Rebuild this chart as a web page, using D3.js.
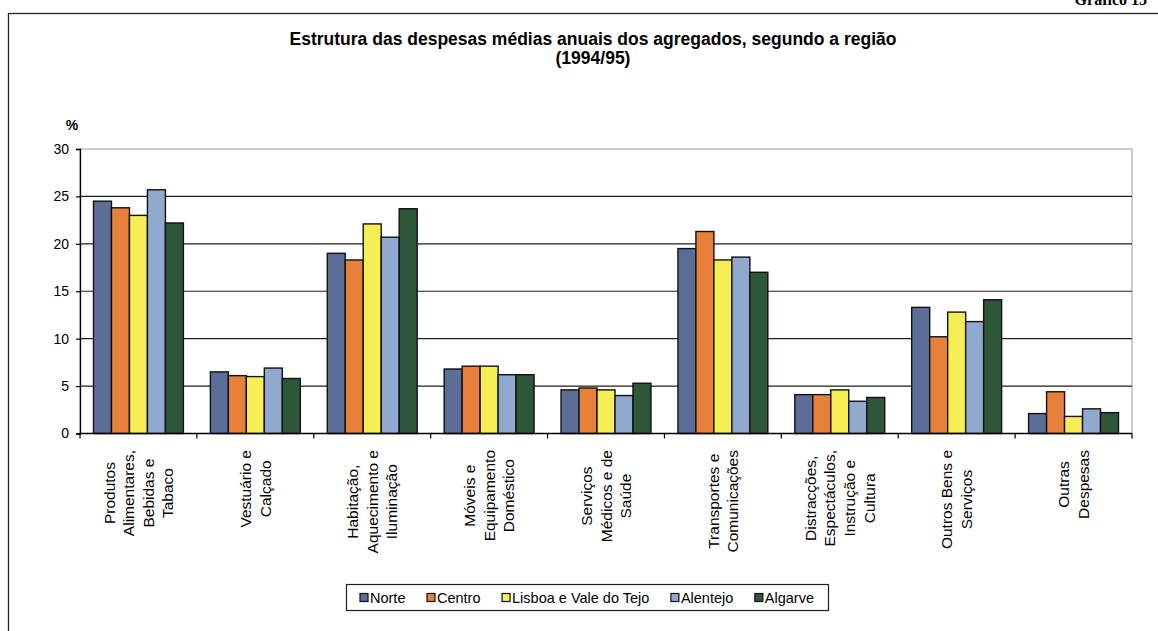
<!DOCTYPE html>
<html>
<head>
<meta charset="utf-8">
<script src="https://cdn.jsdelivr.net/npm/d3@7"></script>
<style>
  body { margin: 0; background: #fff; }
  svg { display: block; }
  text { font-family: "Liberation Sans", Arial, sans-serif; fill: #000; }
</style>
</head>
<body>
<svg id="chart" width="1158" height="631"></svg>
<script>
// Expenditure categories (label lines as printed under the axis)
const categories = [
  ["Produtos", "Alimentares,", "Bebidas e", "Tabaco"],
  ["Vestuário e", "Calçado"],
  ["Habitação,", "Aquecimento e", "Iluminação"],
  ["Móveis e", "Equipamento", "Doméstico"],
  ["Serviços", "Médicos e de", "Saúde"],
  ["Transportes e", "Comunicações"],
  ["Distracções,", "Espectáculos,", "Instrução e", "Cultura"],
  ["Outros Bens e", "Serviços"],
  ["Outras", "Despesas"]
];

const regions = ["Norte", "Centro", "Lisboa e Vale do Tejo", "Alentejo", "Algarve"];

// Share of average annual expenditure (%) per region
const norte    = [24.5, 6.5, 19.0, 6.8, 4.6, 19.5, 4.1, 13.3, 2.1];
const centro   = [23.8, 6.1, 18.3, 7.1, 4.8, 21.3, 4.1, 10.2, 4.4];
const lisboa   = [23.0, 6.0, 22.1, 7.1, 4.6, 18.3, 4.6, 12.8, 1.8];
const alentejo = [25.7, 6.9, 20.7, 6.2, 4.0, 18.6, 3.4, 11.8, 2.6];
const algarve  = [22.2, 5.8, 23.7, 6.2, 5.3, 17.0, 3.8, 14.1, 2.2];

const yTicks = [0, 5, 10, 15, 20, 25, 30];

const titleLines = ["Estrutura das despesas médias anuais dos agregados, segundo a região", "(1994/95)"];

// ---------------------------------------------------------------
const series = [norte, centro, lisboa, alentejo, algarve];
const colors = ["#5b6e98", "#e8803a", "#f5ef55", "#91a8cf", "#2e5638"];

const svg = d3.select("#chart");
const plot = { left: 80, right: 1132, top: 149, bottom: 433.5 };

// page header and chart frame
svg.append("text")
  .attr("x", 1147).attr("y", 5)
  .attr("text-anchor", "end")
  .style("font-family", "'Liberation Serif', serif")
  .style("font-weight", "bold")
  .style("font-size", "16px")
  .text("Gráfico 13");

svg.append("rect")
  .attr("x", 8.5).attr("y", 13.5)
  .attr("width", 1200).attr("height", 700)
  .attr("fill", "none").attr("stroke", "#222").attr("stroke-width", 1.3);

// title
svg.append("g").selectAll("text").data(titleLines).join("text")
  .attr("x", 593)
  .attr("y", (d, i) => 45 + i * 19)
  .attr("text-anchor", "middle")
  .style("font-weight", "bold")
  .style("font-size", "17.5px")
  .text(d => d);

// scales
const x0 = d3.scaleBand()
  .domain(d3.range(categories.length))
  .range([plot.left, plot.right]);

const groupGap = x0.bandwidth() * 1.5 / 6.5;
const x1 = d3.scaleBand()
  .domain(d3.range(regions.length))
  .range([groupGap / 2, x0.bandwidth() - groupGap / 2]);

const y = d3.scaleLinear().domain([0, 30]).range([plot.bottom, plot.top]);

// plot area border and gridlines
svg.append("rect")
  .attr("x", plot.left).attr("y", plot.top)
  .attr("width", plot.right - plot.left).attr("height", plot.bottom - plot.top)
  .attr("fill", "none").attr("stroke", "#9a9a9a").attr("stroke-width", 1);

svg.append("g").selectAll("line").data(yTicks.filter(t => t > 0 && t < 30)).join("line")
  .attr("x1", plot.left).attr("x2", plot.right)
  .attr("y1", d => y(d)).attr("y2", d => y(d))
  .attr("stroke", "#1e1e1e").attr("stroke-width", 1.2);

// bars
const groups = svg.append("g").selectAll("g").data(categories).join("g")
  .attr("transform", (d, i) => `translate(${x0(i)},0)`);

groups.selectAll("rect")
  .data((d, i) => series.map((s, r) => ({ r, v: s[i] })))
  .join("rect")
  .attr("x", d => x1(d.r))
  .attr("y", d => y(d.v))
  .attr("width", x1.bandwidth())
  .attr("height", d => y(0) - y(d.v))
  .attr("fill", d => colors[d.r])
  .attr("stroke", "#111")
  .attr("stroke-width", 1.4);

// y axis
const yAxis = d3.axisLeft(y).tickValues(yTicks).tickSize(4).tickPadding(7).tickFormat(d3.format("d"));
const gy = svg.append("g").attr("transform", `translate(${plot.left},0)`).call(yAxis);
gy.select(".domain").attr("stroke", "#000").attr("stroke-width", 1.3);
gy.selectAll(".tick line").attr("stroke", "#000").attr("stroke-width", 1.2);
gy.selectAll(".tick text").style("font-size", "14px").style("font-family", "'Liberation Sans', Arial, sans-serif");

svg.append("text")
  .attr("x", 72).attr("y", 130)
  .attr("text-anchor", "middle")
  .style("font-weight", "bold")
  .style("font-size", "14px")
  .text("%");

// x axis line with ticks between categories
svg.append("line")
  .attr("x1", plot.left).attr("x2", plot.right)
  .attr("y1", plot.bottom).attr("y2", plot.bottom)
  .attr("stroke", "#000").attr("stroke-width", 1.4);

svg.append("g").selectAll("line").data(d3.range(categories.length + 1)).join("line")
  .attr("x1", i => i < categories.length ? x0(i) : plot.right)
  .attr("x2", i => i < categories.length ? x0(i) : plot.right)
  .attr("y1", plot.bottom).attr("y2", plot.bottom + 5)
  .attr("stroke", "#000").attr("stroke-width", 1.2);

// rotated category labels, block top aligned just under the axis
const lineStep = 19.6;
const labelTop = plot.bottom + 16.5;
categories.forEach((lines, i) => {
  const cx = x0(i) + x0.bandwidth() / 2;
  const g = svg.append("g");
  const texts = g.selectAll("text").data(lines).join("text")
    .attr("text-anchor", "middle")
    .attr("dominant-baseline", "central")
    .style("font-size", "15.5px")
    .text(d => d);
  let maxW = 0;
  texts.each(function () { maxW = Math.max(maxW, this.getComputedTextLength()); });
  const cy = labelTop + maxW / 2;
  texts.attr("transform", (d, k) => {
    const lx = cx + (k - (lines.length - 1) / 2) * lineStep;
    return `translate(${lx},${cy}) rotate(-90)`;
  });
});

// legend
const legend = { x: 346, y: 584, w: 482, h: 26 };
svg.append("rect")
  .attr("x", legend.x + 0.5).attr("y", legend.y + 0.5)
  .attr("width", legend.w).attr("height", legend.h)
  .attr("fill", "#fff").attr("stroke", "#222").attr("stroke-width", 1.2);

const items = svg.append("g").selectAll("g").data(regions).join("g");
items.append("rect")
  .attr("width", 8).attr("height", 8)
  .attr("fill", (d, i) => colors[i])
  .attr("stroke", "#111").attr("stroke-width", 1.2);
items.append("text")
  .attr("x", 10).attr("y", 4)
  .attr("dominant-baseline", "central")
  .style("font-size", "14.5px")
  .text(d => d);

const widths = [];
items.each(function () { widths.push(this.getBBox().width); });
const totalW = d3.sum(widths);
const spacing = (legend.w - 28 - totalW) / (regions.length - 1);
let cursor = legend.x + 14;
items.attr("transform", (d, i) => {
  const t = `translate(${cursor},${legend.y + legend.h / 2 - 4 + 0.5})`;
  cursor += widths[i] + spacing;
  return t;
});
</script>
</body>
</html>
